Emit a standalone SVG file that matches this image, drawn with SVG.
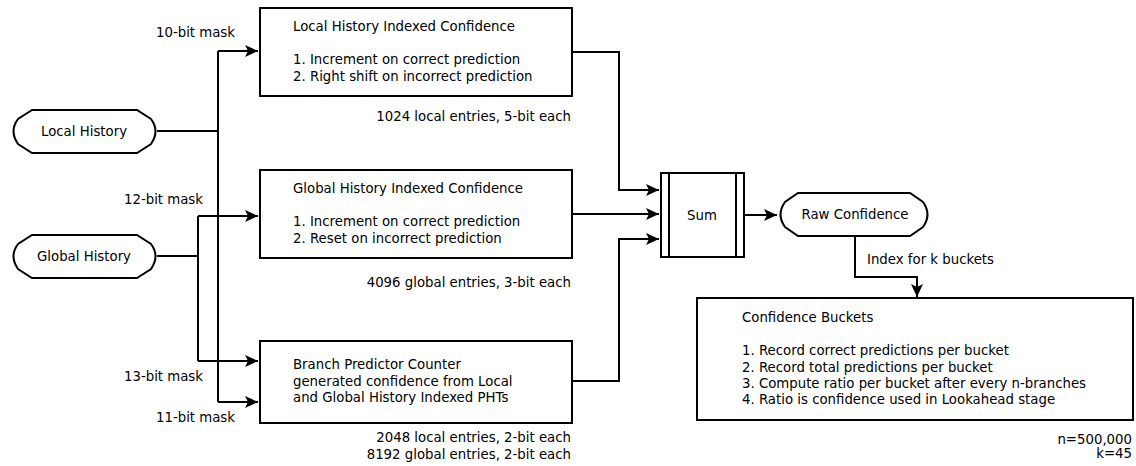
<svg xmlns="http://www.w3.org/2000/svg" width="1136" height="466" viewBox="0 0 1136 466">
<defs>
<marker id="arr" markerUnits="userSpaceOnUse" markerWidth="14" markerHeight="12" refX="13" refY="6" orient="auto">
<path d="M0,0 L13,6 L0,12 L3,6 Z" fill="#000"/>
</marker>
</defs>
<style>
text{font-family:"DejaVu Sans","Liberation Sans",sans-serif;font-size:13.3px;fill:#000}
.box{fill:#fff;stroke:#000;stroke-width:2}
.con{fill:none;stroke:#000;stroke-width:2}
.r{text-anchor:end}
.m{text-anchor:middle}
</style>
<rect width="1136" height="466" fill="#fff"/>
<g id="connectors">
<path class="con" d="M157,131 H218"/>
<path class="con" d="M218,51 V402"/>
<path class="con" d="M218,51 H258" marker-end="url(#arr)"/>
<path class="con" d="M218,402 H258" marker-end="url(#arr)"/>
<path class="con" d="M157,256 H198"/>
<path class="con" d="M198,216 V361"/>
<path class="con" d="M198,216 H258" marker-end="url(#arr)"/>
<path class="con" d="M198,361 H258" marker-end="url(#arr)"/>
<path class="con" d="M572,52 H619 V190 H659" marker-end="url(#arr)"/>
<path class="con" d="M572,214 H659" marker-end="url(#arr)"/>
<path class="con" d="M572,381 H619 V239 H659" marker-end="url(#arr)"/>
<path class="con" d="M744,215 H777" marker-end="url(#arr)"/>
<path class="con" d="M855,236 V277 H917 V297" marker-end="url(#arr)"/>
<text class="r" x="235" y="37">10-bit mask</text>
<text class="r" x="203" y="204">12-bit mask</text>
<text class="r" x="203" y="381">13-bit mask</text>
<text class="r" x="235" y="422">11-bit mask</text>
<text x="867" y="264">Index for k buckets</text>
</g>
<g id="local-history">
<path class="box" d="M32,110 H137 L151,119 Q160,131 151,144 L137,153 H32 L18,144 Q9,131 18,119 Z"/>
<text class="m" x="84" y="136">Local History</text>
</g>
<g id="global-history">
<path class="box" d="M32,235 H137 L151,244 Q160,256 151,269 L137,278 H32 L18,269 Q9,256 18,244 Z"/>
<text class="m" x="84" y="261">Global History</text>
</g>
<g id="local-conf">
<rect class="box" x="260" y="8" width="312" height="88"/>
<text x="293" y="31">Local History Indexed Confidence</text>
<text x="293" y="64">1. Increment on correct prediction</text>
<text x="293" y="81">2. Right shift on incorrect prediction</text>
<text class="r" x="571" y="121">1024 local entries, 5-bit each</text>
</g>
<g id="global-conf">
<rect class="box" x="260" y="170" width="312" height="88"/>
<text x="293" y="193">Global History Indexed Confidence</text>
<text x="293" y="226">1. Increment on correct prediction</text>
<text x="293" y="243">2. Reset on incorrect prediction</text>
<text class="r" x="571" y="287">4096 global entries, 3-bit each</text>
</g>
<g id="bp-counter">
<rect class="box" x="260" y="341" width="312" height="82"/>
<text x="293" y="369">Branch Predictor Counter</text>
<text x="293" y="386">generated confidence from Local</text>
<text x="293" y="402">and Global History Indexed PHTs</text>
<text class="r" x="571" y="442">2048 local entries, 2-bit each</text>
<text class="r" x="571" y="459">8192 global entries, 2-bit each</text>
</g>
<g id="sum">
<rect class="box" x="661" y="173" width="83" height="84"/>
<path class="con" d="M669,173 V257 M736,173 V257"/>
<text class="m" x="702" y="220">Sum</text>
</g>
<g id="raw-confidence">
<path class="box" d="M798,193 H910 L923,202 Q932,214.5 923,227 L910,236 H798 L785,227 Q776,214.5 785,202 Z"/>
<text class="m" x="855" y="219">Raw Confidence</text>
</g>
<g id="buckets">
<rect class="box" x="697" y="298" width="436" height="122"/>
<text x="742" y="322">Confidence Buckets</text>
<text x="742" y="355">1. Record correct predictions per bucket</text>
<text x="742" y="372">2. Record total predictions per bucket</text>
<text x="742" y="388">3. Compute ratio per bucket after every n-branches</text>
<text x="742" y="404">4. Ratio is confidence used in Lookahead stage</text>
<text class="r" x="1132" y="444">n=500,000</text>
<text class="r" x="1132" y="458">k=45</text>
</g>
</svg>
